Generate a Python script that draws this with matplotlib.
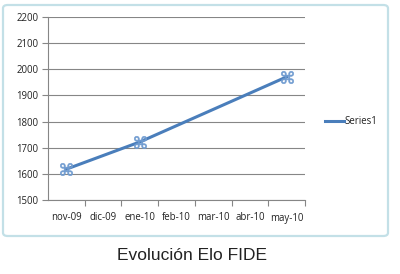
import matplotlib
matplotlib.use("Agg")
import matplotlib.pyplot as plt
from matplotlib.patches import FancyBboxPatch

# Data
months = ['nov-09', 'dic-09', 'ene-10', 'feb-10', 'mar-10', 'abr-10', 'may-10']
rated_months = ['nov-09', 'ene-10', 'may-10']
elo = [1618, 1722, 1971]
y_ticks = [1500, 1600, 1700, 1800, 1900, 2000, 2100, 2200]

W, H = 400, 274
fig = plt.figure(figsize=(W / 100, H / 100), dpi=100)
fig.patch.set_facecolor('white')

# Excel-like chart frame
frame = FancyBboxPatch((3 / W, (H - 236) / H), 385 / W, 231 / H,
                       boxstyle="round,pad=0,rounding_size=0.012",
                       transform=fig.transFigure, facecolor='white',
                       edgecolor='#c3e0e7', linewidth=1.6, zorder=-1)
fig.patches.append(frame)

ax = fig.add_axes([48 / W, (H - 200) / H, 257 / W, 183 / H])
ax.set_zorder(2)
ax.set_facecolor('none')

x = [months.index(m) for m in rated_months]
ax.plot(x, elo, color='#4a7ebb', linewidth=2.2, marker='$⌘$',
        markersize=9, markeredgewidth=0.4, markerfacecolor='#6f9bd0',
        markeredgecolor='#6f9bd0', label='Series1', zorder=3)

ax.set_xlim(-0.5, len(months) - 0.5)
ax.set_ylim(1500, 2200)
ax.set_yticks(y_ticks)
ax.set_xticks(range(len(months)))
ax.set_xticklabels(months)
ax.set_xticks([i + 0.5 for i in range(len(months))], minor=True)
ax.tick_params(axis='x', which='major', length=0, pad=9,
               labelsize=6.9, labelcolor='#222222')
ax.tick_params(axis='x', which='minor', length=4, color='#868686', width=0.8)
ax.tick_params(axis='y', length=4, color='#868686', width=0.8,
               labelsize=6.9, labelcolor='#222222', pad=3)
for lbl in ax.get_xticklabels() + ax.get_yticklabels():
    lbl.set_family('Open Sans')

ax.grid(axis='y', color='#868686', linewidth=0.8)
ax.set_axisbelow(True)
for side in ['top', 'right']:
    ax.spines[side].set_visible(False)
for side in ['left', 'bottom']:
    ax.spines[side].set_color('#868686')
    ax.spines[side].set_linewidth(0.8)

leg = fig.legend(handles=[ax.lines[0]], labels=['Series1'],
                 loc='center left', bbox_to_anchor=(316 / W, (H - 122) / H),
                 frameon=False, handlelength=2.0, handletextpad=0.1,
                 prop={'family': 'Open Sans', 'size': 6.9})
leg.legend_handles[0].set_marker('')
leg.get_texts()[0].set_color('#222222')

fig.text(192 / W, (H - 256) / H, 'Evolución Elo FIDE', ha='center',
         va='center', fontsize=12.5, family='Liberation Sans', color='#222222')

fig.savefig('out.png', dpi=100)
